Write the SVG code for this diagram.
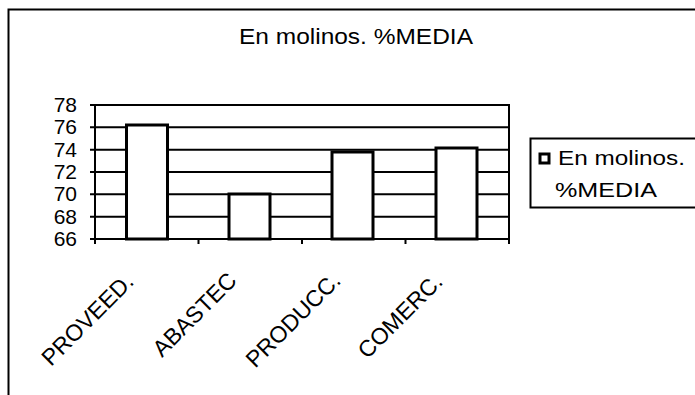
<svg xmlns="http://www.w3.org/2000/svg" width="695" height="395" viewBox="0 0 695 395">
<style>
text{font-family:"Liberation Sans",Arial,sans-serif;fill:#000}
.frame{fill:none;stroke:#000;stroke-width:2}
.grid{stroke:#000;stroke-width:2;fill:none}
.bar{fill:#fff;stroke:#000;stroke-width:3}
.ylab{font-size:21px;text-anchor:end}
.xlab{font-size:23px;text-anchor:end}
</style>
<rect width="695" height="395" fill="#fff"/>
<g id="frame">
<path class="frame" d="M8.5 395 V9.5 H695"/>
</g>
<g id="title"><text x="356" y="44" font-size="22" text-anchor="middle" textLength="234" lengthAdjust="spacingAndGlyphs">En molinos. %MEDIA</text></g>
<g id="plot">
<rect class="grid" x="95" y="105" width="414" height="134"/>
<path class="grid" d="M95 127.3H509M95 149.7H509M95 172H509M95 194.3H509M95 216.7H509"/>
<path class="grid" d="M90 105H95M90 127.3H95M90 149.7H95M90 172H95M90 194.3H95M90 216.7H95M90 239H95M95 239V244M198.5 239V244M302 239V244M405.5 239V244M509 239V244"/>
</g>
<g id="yaxis">
<text class="ylab" x="77" y="112">78</text>
<text class="ylab" x="77" y="134">76</text>
<text class="ylab" x="77" y="157">74</text>
<text class="ylab" x="77" y="179">72</text>
<text class="ylab" x="77" y="201">70</text>
<text class="ylab" x="77" y="224">68</text>
<text class="ylab" x="77" y="246">66</text>
</g>
<g id="bars">
<rect class="bar" x="126.5" y="125" width="41" height="114"/>
<rect class="bar" x="229" y="194" width="41" height="45"/>
<rect class="bar" x="332" y="152" width="41" height="87"/>
<rect class="bar" x="436" y="148" width="41" height="91"/>
</g>
<g id="xaxis">
<text class="xlab" transform="translate(135,283) rotate(-45)">PROVEED.</text>
<text class="xlab" transform="translate(238,282) rotate(-45)">ABASTEC</text>
<text class="xlab" transform="translate(342,282) rotate(-45)">PRODUCC.</text>
<text class="xlab" transform="translate(444,283) rotate(-45)">COMERC.</text>
</g>
<g id="legend">
<path class="frame" d="M695 138.5H530.5V207.5H695"/>
<rect x="540" y="154" width="9" height="9" fill="#fff" stroke="#000" stroke-width="3"/>
<text x="558" y="165" font-size="20" textLength="127" lengthAdjust="spacingAndGlyphs">En molinos.</text>
<text x="555" y="197" font-size="20" textLength="102" lengthAdjust="spacingAndGlyphs">%MEDIA</text>
</g>
</svg>
